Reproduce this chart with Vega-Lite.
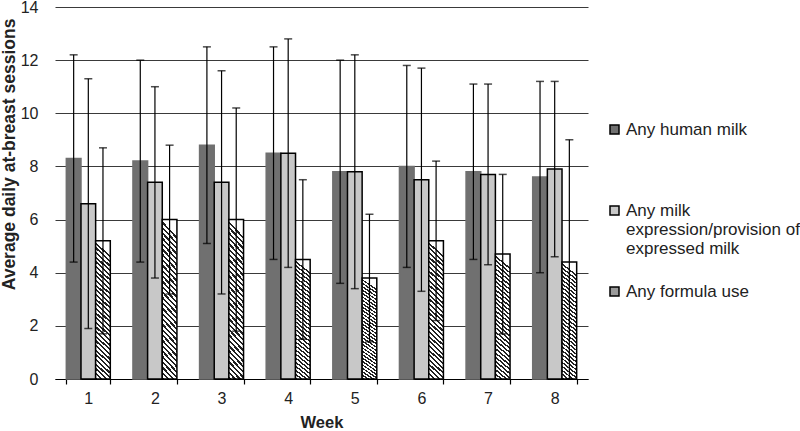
{
  "$schema": "https://vega.github.io/schema/vega-lite/v6.json",
  "width": 533,
  "height": 372,
  "autosize": "none",
  "padding": {"left": 55, "top": 7, "right": 212, "bottom": 52},
  "background": "white",
  "config": {
    "view": {"stroke": null},
    "font": "Liberation Sans",
    "axis": {"labelFont": "Liberation Sans", "titleFont": "Liberation Sans", "labelColor": "#222", "titleColor": "#222"},
    "legend": {"padding": 0}
  },
  "data": {
    "values": [
      {"week": "1", "series": "Any human milk", "mean": 8.3, "low": 4.4, "high": 12.2},
      {"week": "1", "series": "Any milk expression/provision of expressed milk", "mean": 6.6, "low": 1.9, "high": 11.3},
      {"week": "1", "series": "Any formula use", "mean": 5.2, "low": 1.7, "high": 8.7},
      {"week": "2", "series": "Any human milk", "mean": 8.2, "low": 4.4, "high": 12.0},
      {"week": "2", "series": "Any milk expression/provision of expressed milk", "mean": 7.4, "low": 3.8, "high": 11.0},
      {"week": "2", "series": "Any formula use", "mean": 6.0, "low": 3.2, "high": 8.8},
      {"week": "3", "series": "Any human milk", "mean": 8.8, "low": 5.1, "high": 12.5},
      {"week": "3", "series": "Any milk expression/provision of expressed milk", "mean": 7.4, "low": 3.2, "high": 11.6},
      {"week": "3", "series": "Any formula use", "mean": 6.0, "low": 1.8, "high": 10.2},
      {"week": "4", "series": "Any human milk", "mean": 8.5, "low": 4.5, "high": 12.5},
      {"week": "4", "series": "Any milk expression/provision of expressed milk", "mean": 8.5, "low": 4.2, "high": 12.8},
      {"week": "4", "series": "Any formula use", "mean": 4.5, "low": 1.5, "high": 7.5},
      {"week": "5", "series": "Any human milk", "mean": 7.8, "low": 3.6, "high": 12.0},
      {"week": "5", "series": "Any milk expression/provision of expressed milk", "mean": 7.8, "low": 3.4, "high": 12.2},
      {"week": "5", "series": "Any formula use", "mean": 3.8, "low": 1.4, "high": 6.2},
      {"week": "6", "series": "Any human milk", "mean": 8.0, "low": 4.2, "high": 11.8},
      {"week": "6", "series": "Any milk expression/provision of expressed milk", "mean": 7.5, "low": 3.3, "high": 11.7},
      {"week": "6", "series": "Any formula use", "mean": 5.2, "low": 2.2, "high": 8.2},
      {"week": "7", "series": "Any human milk", "mean": 7.8, "low": 4.5, "high": 11.1},
      {"week": "7", "series": "Any milk expression/provision of expressed milk", "mean": 7.7, "low": 4.3, "high": 11.1},
      {"week": "7", "series": "Any formula use", "mean": 4.7, "low": 1.7, "high": 7.7},
      {"week": "8", "series": "Any human milk", "mean": 7.6, "low": 4.0, "high": 11.2},
      {"week": "8", "series": "Any milk expression/provision of expressed milk", "mean": 7.9, "low": 4.6, "high": 11.2},
      {"week": "8", "series": "Any formula use", "mean": 4.4, "low": 0.0, "high": 9.0}
    ]
  },
  "encoding": {
    "x": {
      "field": "week", "type": "nominal",
      "scale": {"paddingInner": 0.34, "paddingOuter": 0.17},
      "axis": {
        "title": "Week", "titleFontSize": 16.5, "titleFontWeight": "bold", "titlePadding": 8,
        "labelAngle": 0, "labelFontSize": 16, "labelPadding": 6,
        "tickBand": "extent", "tickSize": 5, "tickColor": "#000", "domainColor": "#000", "domainWidth": 1.2, "tickWidth": 1.2,
        "grid": false
      }
    },
    "xOffset": {
      "field": "series", "type": "nominal",
      "scale": {"domain": ["Any human milk", "Any milk expression/provision of expressed milk", "Any formula use"], "paddingInner": 0, "paddingOuter": 0}
    }
  },
  "layer": [
    {
      "mark": {"type": "bar", "strokeWidth": 1.5},
      "encoding": {
        "y": {
          "field": "mean", "type": "quantitative",
          "scale": {"domain": [0, 14]},
          "axis": {
            "title": "Average daily at-breast sessions", "titleFontSize": 17.5, "titleFontWeight": "bold", "titlePadding": 2,
            "titleY": 147, "titleAlign": "center",
            "values": [0, 2, 4, 6, 8, 10, 12, 14], "labelFontSize": 16, "labelPadding": 17,
            "domain": false, "ticks": false, "grid": true, "gridColor": "#3a3a3a", "gridWidth": 1.2
          }
        },
        "fill": {
          "condition": {
            "test": "datum.series === 'Any formula use'",
            "value": {"gradient": "linear", "x1": 0.1, "y1": 0, "x2": 0, "y2": 1, "stops": [
                {"offset": 0, "color": "#fff"}, {"offset": 0.0183, "color": "#fff"}, {"offset": 0.0183, "color": "#222"}, {"offset": 0.0333, "color": "#222"},
                {"offset": 0.0333, "color": "#fff"}, {"offset": 0.0517, "color": "#fff"}, {"offset": 0.0517, "color": "#222"}, {"offset": 0.0667, "color": "#222"},
                {"offset": 0.0667, "color": "#fff"}, {"offset": 0.085, "color": "#fff"}, {"offset": 0.085, "color": "#222"}, {"offset": 0.1, "color": "#222"},
                {"offset": 0.1, "color": "#fff"}, {"offset": 0.1183, "color": "#fff"}, {"offset": 0.1183, "color": "#222"}, {"offset": 0.1333, "color": "#222"},
                {"offset": 0.1333, "color": "#fff"}, {"offset": 0.1517, "color": "#fff"}, {"offset": 0.1517, "color": "#222"}, {"offset": 0.1667, "color": "#222"},
                {"offset": 0.1667, "color": "#fff"}, {"offset": 0.185, "color": "#fff"}, {"offset": 0.185, "color": "#222"}, {"offset": 0.2, "color": "#222"},
                {"offset": 0.2, "color": "#fff"}, {"offset": 0.2183, "color": "#fff"}, {"offset": 0.2183, "color": "#222"}, {"offset": 0.2333, "color": "#222"},
                {"offset": 0.2333, "color": "#fff"}, {"offset": 0.2517, "color": "#fff"}, {"offset": 0.2517, "color": "#222"}, {"offset": 0.2667, "color": "#222"},
                {"offset": 0.2667, "color": "#fff"}, {"offset": 0.285, "color": "#fff"}, {"offset": 0.285, "color": "#222"}, {"offset": 0.3, "color": "#222"},
                {"offset": 0.3, "color": "#fff"}, {"offset": 0.3183, "color": "#fff"}, {"offset": 0.3183, "color": "#222"}, {"offset": 0.3333, "color": "#222"},
                {"offset": 0.3333, "color": "#fff"}, {"offset": 0.3517, "color": "#fff"}, {"offset": 0.3517, "color": "#222"}, {"offset": 0.3667, "color": "#222"},
                {"offset": 0.3667, "color": "#fff"}, {"offset": 0.385, "color": "#fff"}, {"offset": 0.385, "color": "#222"}, {"offset": 0.4, "color": "#222"},
                {"offset": 0.4, "color": "#fff"}, {"offset": 0.4183, "color": "#fff"}, {"offset": 0.4183, "color": "#222"}, {"offset": 0.4333, "color": "#222"},
                {"offset": 0.4333, "color": "#fff"}, {"offset": 0.4517, "color": "#fff"}, {"offset": 0.4517, "color": "#222"}, {"offset": 0.4667, "color": "#222"},
                {"offset": 0.4667, "color": "#fff"}, {"offset": 0.485, "color": "#fff"}, {"offset": 0.485, "color": "#222"}, {"offset": 0.5, "color": "#222"},
                {"offset": 0.5, "color": "#fff"}, {"offset": 0.5183, "color": "#fff"}, {"offset": 0.5183, "color": "#222"}, {"offset": 0.5333, "color": "#222"},
                {"offset": 0.5333, "color": "#fff"}, {"offset": 0.5517, "color": "#fff"}, {"offset": 0.5517, "color": "#222"}, {"offset": 0.5667, "color": "#222"},
                {"offset": 0.5667, "color": "#fff"}, {"offset": 0.585, "color": "#fff"}, {"offset": 0.585, "color": "#222"}, {"offset": 0.6, "color": "#222"},
                {"offset": 0.6, "color": "#fff"}, {"offset": 0.6183, "color": "#fff"}, {"offset": 0.6183, "color": "#222"}, {"offset": 0.6333, "color": "#222"},
                {"offset": 0.6333, "color": "#fff"}, {"offset": 0.6517, "color": "#fff"}, {"offset": 0.6517, "color": "#222"}, {"offset": 0.6667, "color": "#222"},
                {"offset": 0.6667, "color": "#fff"}, {"offset": 0.685, "color": "#fff"}, {"offset": 0.685, "color": "#222"}, {"offset": 0.7, "color": "#222"},
                {"offset": 0.7, "color": "#fff"}, {"offset": 0.7183, "color": "#fff"}, {"offset": 0.7183, "color": "#222"}, {"offset": 0.7333, "color": "#222"},
                {"offset": 0.7333, "color": "#fff"}, {"offset": 0.7517, "color": "#fff"}, {"offset": 0.7517, "color": "#222"}, {"offset": 0.7667, "color": "#222"},
                {"offset": 0.7667, "color": "#fff"}, {"offset": 0.785, "color": "#fff"}, {"offset": 0.785, "color": "#222"}, {"offset": 0.8, "color": "#222"},
                {"offset": 0.8, "color": "#fff"}, {"offset": 0.8183, "color": "#fff"}, {"offset": 0.8183, "color": "#222"}, {"offset": 0.8333, "color": "#222"},
                {"offset": 0.8333, "color": "#fff"}, {"offset": 0.8517, "color": "#fff"}, {"offset": 0.8517, "color": "#222"}, {"offset": 0.8667, "color": "#222"},
                {"offset": 0.8667, "color": "#fff"}, {"offset": 0.885, "color": "#fff"}, {"offset": 0.885, "color": "#222"}, {"offset": 0.9, "color": "#222"},
                {"offset": 0.9, "color": "#fff"}, {"offset": 0.9183, "color": "#fff"}, {"offset": 0.9183, "color": "#222"}, {"offset": 0.9333, "color": "#222"},
                {"offset": 0.9333, "color": "#fff"}, {"offset": 0.9517, "color": "#fff"}, {"offset": 0.9517, "color": "#222"}, {"offset": 0.9667, "color": "#222"},
                {"offset": 0.9667, "color": "#fff"}, {"offset": 0.985, "color": "#fff"}, {"offset": 0.985, "color": "#222"}, {"offset": 1, "color": "#222"}
              ]}
          },
          "field": "series", "type": "nominal",
          "scale": {
            "domain": ["Any human milk", "Any milk expression/provision of expressed milk", "Any formula use"],
            "range": ["#707070", "#c8c8c8", "#9a9a9a"]
          },
          "legend": {
            "title": null, "orient": "none", "legendX": 551, "legendY": 114,
            "symbolType": "square", "symbolSize": 81, "symbolStrokeWidth": 1.5,
            "labelFont": "Liberation Sans", "labelFontSize": 17, "labelColor": "#222", "labelLimit": 300, "labelOffset": 3,
            "rowPadding": 25,
            "labelExpr": "datum.label == 'Any milk expression/provision of expressed milk' ? ['Any milk', 'expression/provision of', 'expressed milk'] : [datum.label, '', '']",
            "encode": {
              "labels": {"lineHeight": {"value": 20}}
            }
          }
        },
        "stroke": {
          "condition": {"test": "datum.series === 'Any human milk'", "value": "#707070"},
          "value": "#000000"
        }
      }
    },
    {
      "mark": {"type": "rule", "color": "#000", "strokeWidth": 1.2},
      "encoding": {
        "y": {"field": "low", "type": "quantitative"},
        "y2": {"field": "high"}
      }
    },
    {
      "mark": {"type": "tick", "orient": "horizontal", "color": "#000", "size": 8, "thickness": 1.5},
      "encoding": {"y": {"field": "high", "type": "quantitative"}}
    },
    {
      "mark": {"type": "tick", "orient": "horizontal", "color": "#000", "size": 8, "thickness": 1.5},
      "encoding": {"y": {"field": "low", "type": "quantitative"}}
    }
  ]
}
